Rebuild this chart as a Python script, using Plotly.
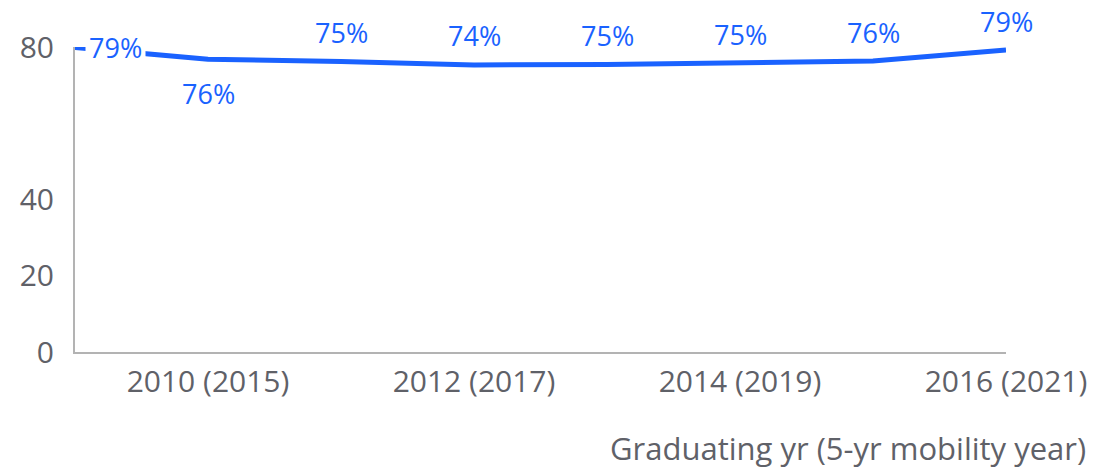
import plotly.graph_objects as go

years = [2009, 2010, 2011, 2012, 2013, 2014, 2015, 2016]
values = [79.9, 76.8, 76.2, 75.3, 75.4, 75.8, 76.3, 79.2]
labels = ["79%", "76%", "75%", "74%", "75%", "75%", "76%", "79%"]
tick_years = [2010, 2012, 2014, 2016]
tick_text = ["2010 (2015)", "2012 (2017)", "2014 (2019)", "2016 (2021)"]
y_ticks = [0, 20, 40, 80]
x_title = "Graduating yr (5-yr mobility year)"

BLUE = "#1A62FF"
GREY = "#5f6168"
AXIS = "#b3b3b3"
FONT = "Open Sans"
TICK_SIZE = 30
LABEL_SIZE = 27
TITLE_SIZE = 31

# page has an 8px body margin; plot area target in screen px: x 75..1006, y 47..352
OFF = 8
L, T = 75 - OFF, 47 - OFF
PW, PH = 931, 305
W, H = 1117, 469
R = W - (L + PW)
B = H - (T + PH)

fig = go.Figure()
fig.add_trace(go.Scatter(
    x=years, y=values, mode="lines",
    line=dict(color=BLUE, width=5),
    hoverinfo="skip", showlegend=False, cliponaxis=False,
))

anns = []
for i, (x, y, t) in enumerate(zip(years, values, labels)):
    if i == 0:
        anns.append(dict(x=x, y=y, text=t, showarrow=False, xanchor="left", yanchor="middle",
                         xshift=10, bgcolor="white", borderpad=3,
                         font=dict(family=FONT, size=LABEL_SIZE, color=BLUE)))
    elif i == 1:
        anns.append(dict(x=x, y=y, text=t, showarrow=False, xanchor="center", yanchor="middle",
                         yshift=-34, font=dict(family=FONT, size=LABEL_SIZE, color=BLUE)))
    else:
        anns.append(dict(x=x, y=y, text=t, showarrow=False, xanchor="center", yanchor="middle",
                         yshift=29, font=dict(family=FONT, size=LABEL_SIZE, color=BLUE)))

anns.append(dict(xref="paper", yref="paper", x=(1088 - OFF - L) / PW, y=(T + PH - (448 - OFF)) / PH,
                 text=x_title, showarrow=False, xanchor="right", yanchor="middle",
                 font=dict(family=FONT, size=TITLE_SIZE, color=GREY)))

fig.update_layout(
    width=W, height=H,
    margin=dict(l=L, r=R, t=T, b=B, autoexpand=False),
    paper_bgcolor="white", plot_bgcolor="white",
    font=dict(family=FONT, size=TICK_SIZE, color=GREY),
    annotations=anns,
    xaxis=dict(range=[2009, 2016], tickvals=tick_years, ticktext=tick_text,
               showgrid=False, zeroline=False, showline=True, linecolor=AXIS, linewidth=2,
               ticks="", ticklabelstandoff=2, tickfont=dict(family=FONT, size=TICK_SIZE, color=GREY)),
    yaxis=dict(range=[0, 80], tickvals=y_ticks, showgrid=False, zeroline=False,
               showline=True, linecolor=AXIS, linewidth=2, ticks="",
               ticklabelstandoff=13, tickfont=dict(family=FONT, size=TICK_SIZE, color=GREY)),
)

fig.write_html("out.html")
